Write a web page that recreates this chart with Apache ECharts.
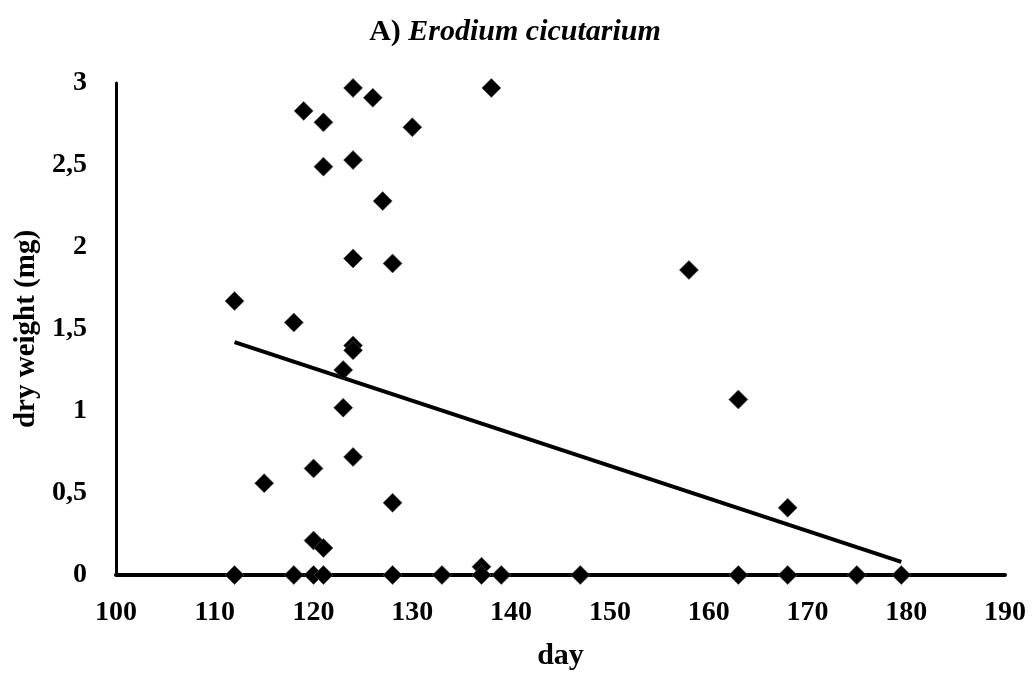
<!DOCTYPE html>
<html>
<head>
<meta charset="utf-8">
<script src="https://cdn.jsdelivr.net/npm/echarts@6/dist/echarts.min.js"></script>
<style>html,body{margin:0;padding:0;background:#fff;}#c{width:1034px;height:675px;}</style>
</head>
<body>
<div id="c"></div>
<script>
var days = [124,126,119,121,130,138,121,124,127,124,128,112,118,124,124,123,123,124,120,115,128,120,121,
            112,118,120,121,128,133,137,137,139,147,158,163,168,163,168,175,179.5];
var weights = [2.97,2.91,2.83,2.76,2.73,2.97,2.49,2.53,2.28,1.93,1.90,1.67,1.54,1.40,1.37,1.25,1.02,0.72,0.65,0.56,0.44,0.21,0.165,
               0,0,0,0,0,0,0.05,0,0,0,1.86,1.07,0.41,0,0,0,0];
var trendDays = [112,179.5];
var trendWeights = [1.42,0.08];
var yTicks = ['0','0,5','1','1,5','2','2,5','3'];

var pts = days.map(function(d,i){return [d,weights[i]];});
var trend = trendDays.map(function(d,i){return [d,trendWeights[i]];});
var font = '"Liberation Serif","Times New Roman",serif';

var chart = echarts.init(document.getElementById('c'));
chart.setOption({
  animation:false,
  title:{
    text:'{a|A) }{b|Erodium cicutarium}',
    left:510, top:12, textAlign:'center',
    textStyle:{rich:{
      a:{fontFamily:font,fontWeight:'bold',fontSize:30,color:'#000'},
      b:{fontFamily:font,fontWeight:'bold',fontStyle:'italic',fontSize:30,color:'#000'}
    }}
  },
  grid:{left:116,right:29,top:83,bottom:100,outerBoundsMode:'none',containLabel:false},
  xAxis:{
    type:'value',min:100,max:190,interval:10,
    name:'day',nameLocation:'middle',nameGap:66,
    nameTextStyle:{fontFamily:font,fontWeight:'bold',fontSize:30,color:'#000'},
    axisLine:{lineStyle:{color:'#000',width:4}},
    axisTick:{show:false},
    splitLine:{show:false},
    axisLabel:{fontFamily:font,fontWeight:'bold',fontSize:28,color:'#000',margin:24}
  },
  yAxis:{
    type:'value',min:0,max:3,interval:0.5,
    name:'dry weight (mg)',nameLocation:'middle',nameGap:74,
    nameTextStyle:{fontFamily:font,fontWeight:'bold',fontSize:29,color:'#000'},
    axisLine:{show:true,lineStyle:{color:'#000',width:3}},
    axisTick:{show:false},
    splitLine:{show:false},
    axisLabel:{fontFamily:font,fontWeight:'bold',fontSize:28,color:'#000',margin:29,
      formatter:function(v){return yTicks[Math.round(v*2)];}}
  },
  series:[
    {type:'line',data:trend,symbol:'none',lineStyle:{color:'#000',width:4},z:2,silent:true},
    {type:'scatter',data:pts,symbol:'diamond',symbolSize:19,
     itemStyle:{color:'#000',borderColor:'#555',borderWidth:0.6,opacity:1},z:3}
  ]
});
</script>
</body>
</html>
